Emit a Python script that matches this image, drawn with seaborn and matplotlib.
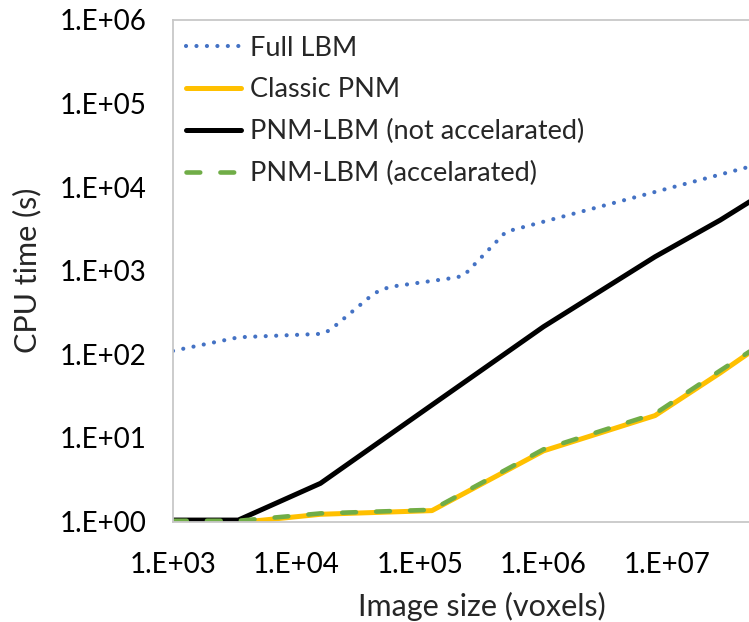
import numpy as np
import pandas as pd
import matplotlib
matplotlib.use("Agg")
import matplotlib.pyplot as plt
import seaborn as sns
from matplotlib.ticker import FixedLocator, FuncFormatter, NullLocator

# data (image size in voxels, CPU time in s)
lbm_size = [1000, 3400, 16000, 18700, 39400, 47400, 59300, 195000, 227000, 497000, 46100000]
lbm_time = [110, 160, 176, 195, 489, 588, 647, 829, 881, 2930, 17500]

pnm_size = [1000, 3375, 15625, 125000, 1000000, 8000000, 27000000, 46656000]
pnm_time = [1.0, 0.97, 1.22, 1.35, 7.0, 18.5, 60, 105]

slow_size = [1000, 3375, 15625, 125000, 1000000, 8000000, 27000000, 46656000]
slow_time = [1.04, 1.04, 2.86, 24.8, 214, 1470, 4040, 6690]

fast_size = [1000, 3375, 15625, 125000, 1000000, 8000000, 27000000, 46656000]
fast_time = [1.02, 1.02, 1.25, 1.38, 7.3, 19.5, 64, 108]

sns.set_theme(style="white")
plt.rcParams['font.family'] = ['Lato', 'DejaVu Sans']

fig = plt.figure(figsize=(7.49, 6.22), dpi=100)
ax = fig.add_axes([173/749, 100.5/622, 617.5/749, 501.5/622])

df_lbm = pd.DataFrame({"size": lbm_size, "time": lbm_time})
df_pnm = pd.DataFrame({"size": pnm_size, "time": pnm_time})
df_slow = pd.DataFrame({"size": slow_size, "time": slow_time})
df_fast = pd.DataFrame({"size": fast_size, "time": fast_time})

sns.lineplot(data=df_lbm, x="size", y="time", ax=ax, color="#4472C4", lw=3.0,
             label="Full LBM", linestyle=(0, (0.01, 2.5)),
             dash_capstyle="round")
sns.lineplot(data=df_pnm, x="size", y="time", ax=ax, color="#FFC000", lw=3.6,
             label="Classic PNM")
sns.lineplot(data=df_slow, x="size", y="time", ax=ax, color="black", lw=3.6,
             label="PNM-LBM (not accelarated)")
sns.lineplot(data=df_fast, x="size", y="time", ax=ax, color="#70AD47", lw=3.3,
             label="PNM-LBM (accelarated)", linestyle=(0, (3, 4.4)),
             dash_capstyle="round")

ax.set_xscale("log")
ax.set_yscale("log")
ax.set_xlim(1e3, 1e8)
ax.set_ylim(1, 1e6)

fmt = FuncFormatter(lambda v, p: "1.E+%02d" % int(round(np.log10(v))))
ax.xaxis.set_major_locator(FixedLocator([1e3, 1e4, 1e5, 1e6, 1e7]))
ax.yaxis.set_major_locator(FixedLocator([1e0, 1e1, 1e2, 1e3, 1e4, 1e5, 1e6]))
ax.xaxis.set_minor_locator(NullLocator())
ax.yaxis.set_minor_locator(NullLocator())
ax.xaxis.set_major_formatter(fmt)
ax.yaxis.set_major_formatter(fmt)
ax.tick_params(axis="both", length=0, labelsize=20, colors="black")
ax.tick_params(axis="x", pad=22)
ax.tick_params(axis="y", pad=19)

for s in ax.spines.values():
    s.set_color("#C8C8C8")
    s.set_linewidth(1.3)
ax.grid(False)

ax.set_xlabel("Image size (voxels)", fontsize=22, labelpad=10)
ax.set_ylabel("CPU time (s)", fontsize=22, labelpad=13)

leg = ax.legend(loc="upper left", bbox_to_anchor=(0.021, 0.969), frameon=False,
                fontsize=19.5, handlelength=2.05, handletextpad=0.3,
                labelspacing=0.62, borderaxespad=0, borderpad=0)

plt.savefig("out.png", dpi=100)
